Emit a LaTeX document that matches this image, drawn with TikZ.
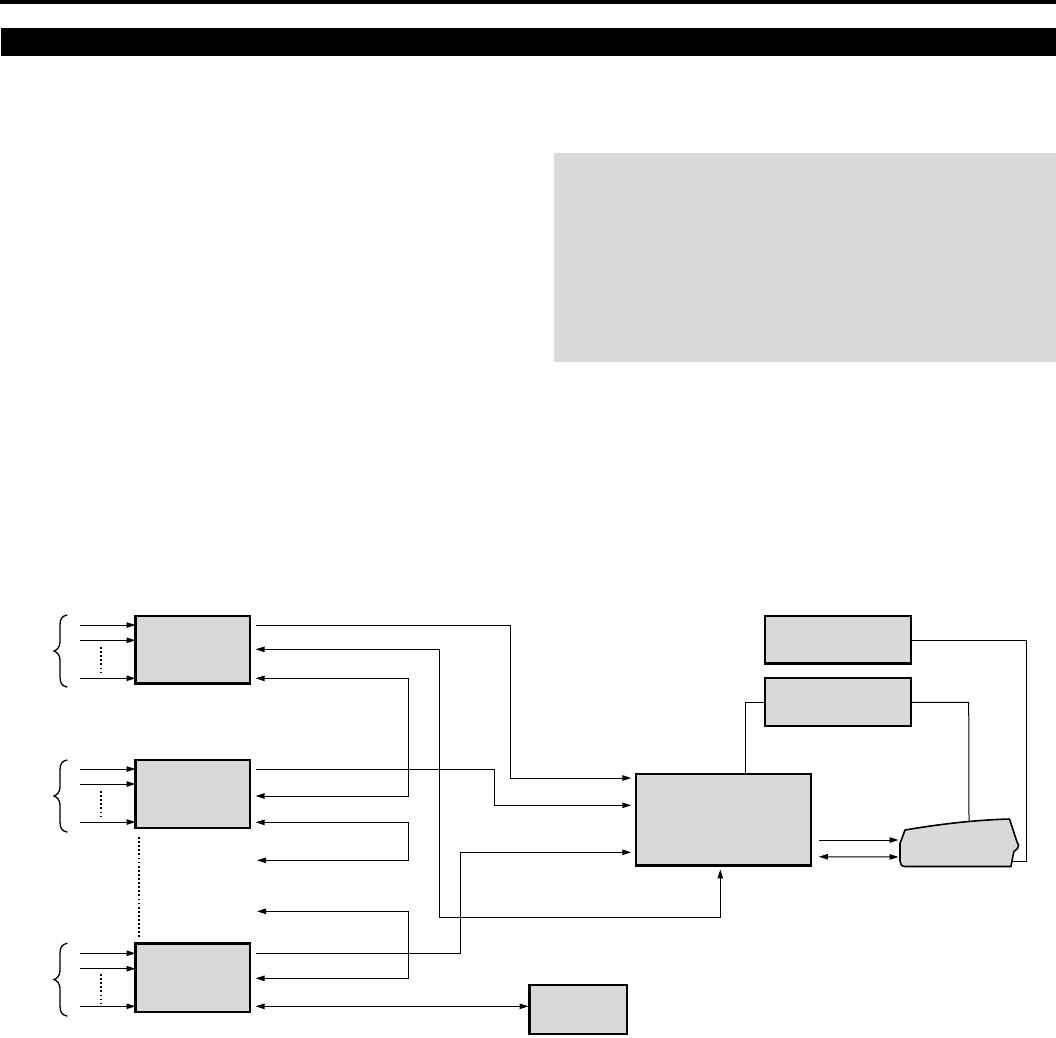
\documentclass[tikz,border=0pt]{standalone}
\usetikzlibrary{arrows.meta}
\definecolor{boxgray}{HTML}{D9D9D9}
\begin{document}
\begin{tikzpicture}[x=1pt,y=-1pt,
  blk/.style={draw,fill=boxgray,line width=2.4pt,inner sep=0pt,outer sep=0pt},
  wire/.style={line width=1pt,>={Triangle[length=9pt,width=5.5pt]}},
  dotline/.style={line width=1.8pt,dash pattern=on 1.8pt off 2.3pt},
  bracestyle/.style={line width=1.3pt,line cap=round}]
\useasboundingbox (0,0) rectangle (1056,1037);
% header bars
\fill[black] (0,0) rectangle (1056,4);
\fill[black] (1,28) rectangle (1056,55.7);
\fill[boxgray] (553.7,153) rectangle (1056,361.7);
% blocks
\node[blk,minimum width=114.6pt,minimum height=67.6pt] (A) at (192.8,649.7) {};
\node[blk,minimum width=114.6pt,minimum height=67.6pt] (B) at (192.8,794) {};
\node[blk,minimum width=114.6pt,minimum height=68.3pt] (C) at (192.8,977.7) {};
\node[blk,minimum width=97.6pt,minimum height=48.6pt] (D) at (578.3,1009.5) {};
\node[blk,minimum width=174.9pt,minimum height=91.3pt] (M) at (723.7,819.8) {};
\node[blk,minimum width=145.9pt,minimum height=47.6pt] (E) at (837.8,639.7) {};
\node[blk,minimum width=145.9pt,minimum height=47.9pt] (F) at (837.8,701.8) {};
% printer
\draw[fill=boxgray,line width=1.6pt,line join=round]
  (905,830) .. controls (940,824) and (975,820) .. (1009.5,819) -- (1017,842)
  -- (1018.5,845) -- (1017.5,848.5) -- (1014,851.5) -- (1012.5,858) -- (1011,866.5)
  -- (905,866.5) .. controls (901.5,866.5) and (900,864) .. (900,861) -- (900,843.5) -- cycle;
\coordinate (Ptop) at (969,821.2);
\coordinate (Pright) at (1013,861);
\coordinate (Pin1) at (898.5,840);
\coordinate (Pin2) at (898.5,857);
% input arrows
\foreach \y in {625,640.3,678.3}{\draw[wire,->] (80,\y) -- (A.west|-0,\y);}
\foreach \y in {769,784,822}{\draw[wire,->] (80,\y) -- (B.west|-0,\y);}
\foreach \y in {953.3,968.7,1006.3}{\draw[wire,->] (80,\y) -- (C.west|-0,\y);}
% dotted lines
\draw[dotline] (101,647) -- (101,674);
\draw[dotline] (101,791) -- (101,819);
\draw[dotline] (101,974) -- (101,1003);
\draw[dotline] (139.3,837) -- (139.3,939);
% braces
\foreach \t/\m/\b in {615/651/687, 760/796/832, 943.3/979.5/1016}{
  \draw[bracestyle] (67,\t) .. controls (62,\t+1) and (60,\t+4) .. (60,\t+10)
    -- (60,\m-9) .. controls (60,\m-4) and (57,\m-1) .. (54,\m)
    .. controls (57,\m+1) and (60,\m+4) .. (60,\m+9)
    -- (60,\b-10) .. controls (60,\b-4) and (62,\b-1) .. (67,\b);
}
% connectors
\draw[wire,->,shorten <=5.5pt,shorten >=5pt] (A.east|-0,625) -- (510.3,625) -- (510.3,778) -- (M.west|-0,778);
\draw[wire,<->,shorten <=5.5pt,shorten >=4pt] (A.east|-0,649.3) -- (439.3,649.3) -- (439.3,917) -- (720.3,917) -- (M.south-|720.3,0);
\draw[wire,<->,shorten <=5.5pt,shorten >=5.5pt] (A.east|-0,678.3) -- (408.3,678.3) -- (408.3,796) -- (B.east|-0,796);
\draw[wire,->,shorten <=5.5pt,shorten >=5pt] (B.east|-0,769.3) -- (494.3,769.3) -- (494.3,805.3) -- (M.west|-0,805.3);
\coordinate (f1) at (257,860.3);
\coordinate (f2) at (257,911.3);
\draw[wire,<->,shorten <=5.5pt] (B.east|-0,822.3) -- (408.3,822.3) -- (408.3,860.3) -- (f1);
\draw[wire,<->,shorten >=5.5pt] (f2) -- (408.3,911.3) -- (408.3,978.3) -- (C.east|-0,978.3);
\draw[wire,->,shorten <=5.5pt,shorten >=5pt] (C.east|-0,953.3) -- (460.3,953.3) -- (460.3,852.3) -- (M.west|-0,852.3);
\draw[wire,<->,shorten <=5.5pt,shorten >=1pt] (C.east|-0,1006.3) -- (D.west|-0,1006.3);
\draw[wire] (M.north-|745.3,0) -- (745.3,702.3) -- (F.west|-0,702.3);
\draw[wire] (E.east|-0,640.3) -- (1026.3,640.3) -- (1026.3,861) -- (Pright);
\draw[wire] (F.east|-0,702.3) -- (968.7,702.3) -- (Ptop);
\draw[wire,->,shorten <=7.7pt] (M.east|-0,840) -- (Pin1);
\draw[wire,<->,shorten <=7.7pt] (M.east|-0,856.7) -- (Pin2);
\end{tikzpicture}
\end{document}
